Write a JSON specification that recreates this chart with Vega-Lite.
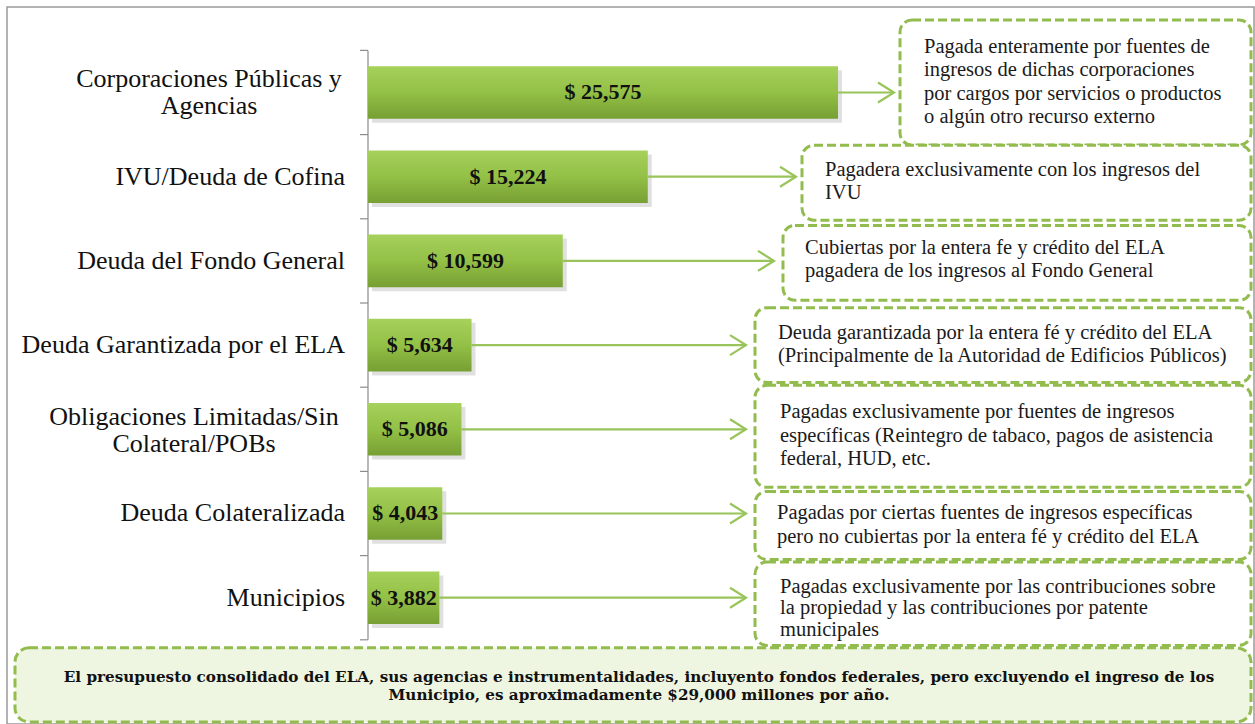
{
  "$schema": "https://vega.github.io/schema/vega-lite/v6.json",
  "autosize": "none",
  "width": 1247,
  "height": 717,
  "padding": {"left": 7, "top": 7, "right": 1, "bottom": 0},
  "background": "white",
  "config": {
    "view": {"stroke": "#9a9a9a", "strokeWidth": 1.5},
    "text": {"font": "'Liberation Serif', 'Times New Roman', serif"},
    "locale": {"number": {"decimal": ".", "thousands": ",", "grouping": [3], "currency": ["$ ", ""]}}
  },
  "datasets": {
    "deuda": [
      {"categoria": "Corporaciones Públicas y\nAgencias", "valor": 25575, "nota": "Pagada enteramente por fuentes de\ningresos de dichas corporaciones\npor cargos por servicios o productos\no algún otro recurso externo"},
      {"categoria": "IVU/Deuda de Cofina", "valor": 15224, "nota": "Pagadera exclusivamente con los ingresos del\nIVU"},
      {"categoria": "Deuda del Fondo General", "valor": 10599, "nota": "Cubiertas por la entera fe y crédito del ELA\npagadera de los ingresos al Fondo General"},
      {"categoria": "Deuda Garantizada por el ELA", "valor": 5634, "nota": "Deuda garantizada por la entera fé y crédito del ELA\n(Principalmente de la Autoridad de Edificios Públicos)"},
      {"categoria": "Obligaciones Limitadas/Sin\nColateral/POBs", "valor": 5086, "nota": "Pagadas exclusivamente por fuentes de ingresos\nespecíficas (Reintegro de tabaco, pagos de asistencia\nfederal, HUD, etc."},
      {"categoria": "Deuda Colateralizada", "valor": 4043, "nota": "Pagadas por ciertas fuentes de ingresos específicas\npero no cubiertas por la entera fé y crédito del ELA"},
      {"categoria": "Municipios", "valor": 3882, "nota": "Pagadas exclusivamente por las contribuciones sobre\nla propiedad y las contribuciones por patente\nmunicipales"}
    ]
  },
  "data": {"name": "deuda"},
  "resolve": {"scale": {"x": "independent"}},
  "encoding": {
    "y": {"field": "categoria", "type": "nominal", "axis": null,
      "scale": {"domain": ["Corporaciones Públicas y\nAgencias", "IVU/Deuda de Cofina", "Deuda del Fondo General", "Deuda Garantizada por el ELA", "Obligaciones Limitadas/Sin\nColateral/POBs", "Deuda Colateralizada", "Municipios", "Resumen"], "paddingInner": 0, "paddingOuter": 0.2577, "align": 1}}
  },
  "layer": [
    {
      "mark": {"type": "bar", "height": {"band": 1}, "fillOpacity": 0, "stroke": "#8c8c8c", "strokeWidth": 1.2},
      "encoding": {
        "x": {"datum": 0, "type": "quantitative", "axis": null, "scale": {"domain": [-19644, 48212], "nice": false, "zero": false}},
        "x2": {"datum": 0}
      }
    },
    {
      "mark": {"type": "rule", "color": "#8c8c8c", "strokeWidth": 1.2},
      "encoding": {
        "y": {"field": "categoria", "type": "nominal", "bandPosition": 0, "axis": null,
          "scale": {"domain": ["Corporaciones Públicas y\nAgencias", "IVU/Deuda de Cofina", "Deuda del Fondo General", "Deuda Garantizada por el ELA", "Obligaciones Limitadas/Sin\nColateral/POBs", "Deuda Colateralizada", "Municipios", "Resumen"], "paddingInner": 0, "paddingOuter": 0.2577, "align": 1}},
        "x": {"datum": -435, "type": "quantitative", "axis": null, "scale": {"domain": [-19644, 48212], "nice": false, "zero": false}},
        "x2": {"datum": 0}
      }
    },
    {
      "mark": {"type": "bar", "height": {"band": 0.625}, "yOffset": 4, "xOffset": 4, "color": "#000000", "opacity": 0.12},
      "encoding": {
        "x": {"field": "valor", "type": "quantitative", "axis": null, "scale": {"domain": [-19644, 48212], "nice": false, "zero": false}}
      }
    },
    {
      "mark": {"type": "bar", "height": {"band": 0.625},
        "color": {"gradient": "linear", "x1": 0, "y1": 0, "x2": 0, "y2": 1,
          "stops": [{"offset": 0, "color": "#a6d15c"}, {"offset": 0.5, "color": "#93c046"}, {"offset": 1, "color": "#779f33"}]}},
      "encoding": {
        "x": {"field": "valor", "type": "quantitative", "axis": null, "scale": {"domain": [-19644, 48212], "nice": false, "zero": false}}
      }
    },
    {
      "mark": {"type": "text", "align": "center", "baseline": "middle", "fontSize": 22, "fontWeight": "bold", "color": "#111111"},
      "encoding": {
        "x": {"field": "valor", "type": "quantitative", "axis": null, "scale": {"domain": [-39288, 96424], "nice": false, "zero": false}},
        "text": {"field": "valor", "type": "quantitative", "format": "$,"}
      }
    },
    {
      "transform": [{"filter": {"field": "categoria", "oneOf": ["IVU/Deuda de Cofina", "Deuda del Fondo General", "Deuda Garantizada por el ELA", "Deuda Colateralizada", "Municipios"]}}],
      "mark": {"type": "text", "align": "right", "baseline": "middle", "dx": -23, "fontSize": 26, "color": "#111111"},
      "encoding": {
        "x": {"datum": 0, "type": "quantitative", "axis": null, "scale": {"domain": [-19644, 48212], "nice": false, "zero": false}},
        "text": {"field": "categoria"}
      }
    },
    {
      "transform": [{"filter": {"field": "categoria", "equal": "Corporaciones Públicas y\nAgencias"}}],
      "mark": {"type": "text", "align": "center", "baseline": "middle", "dx": -159, "yOffset": -13.5, "fontSize": 26, "lineBreak": "\n", "lineHeight": 27, "color": "#111111"},
      "encoding": {
        "x": {"datum": 0, "type": "quantitative", "axis": null, "scale": {"domain": [-19644, 48212], "nice": false, "zero": false}},
        "text": {"field": "categoria"}
      }
    },
    {
      "transform": [{"filter": {"field": "categoria", "equal": "Obligaciones Limitadas/Sin\nColateral/POBs"}}],
      "mark": {"type": "text", "align": "center", "baseline": "middle", "dx": -174, "yOffset": -12.5, "fontSize": 26, "lineBreak": "\n", "lineHeight": 27, "color": "#111111"},
      "encoding": {
        "x": {"datum": 0, "type": "quantitative", "axis": null, "scale": {"domain": [-19644, 48212], "nice": false, "zero": false}},
        "text": {"field": "categoria"}
      }
    },
    {
      "transform": [{"filter": {"field": "categoria", "equal": "Corporaciones Públicas y\nAgencias"}}],
      "layer": [
        {"mark": {"type": "rule", "color": "#98c45a", "strokeWidth": 2.2},
          "encoding": {"x": {"field": "valor", "type": "quantitative", "axis": null, "scale": {"domain": [-19644, 48212], "nice": false, "zero": false}}, "x2": {"datum": 28622}}},
        {"mark": {"type": "point", "shape": "M-1.6,-1L0,0L-1.6,1", "filled": false, "color": "#98c45a", "strokeWidth": 2.2, "size": 400, "opacity": 1},
          "encoding": {"x": {"datum": 28622, "type": "quantitative", "axis": null, "scale": {"domain": [-19644, 48212], "nice": false, "zero": false}}}},
        {"mark": {"type": "bar", "height": {"band": 1.485}, "yOffset": -10, "fill": "#ffffff", "stroke": "#93bc4f", "strokeWidth": 3, "strokeDash": [9, 4], "cornerRadius": 12},
          "encoding": {"x": {"datum": 28949, "type": "quantitative", "axis": null, "scale": {"domain": [-19644, 48212], "nice": false, "zero": false}}, "x2": {"datum": 48049}}},
        {"mark": {"type": "text", "align": "left", "baseline": "middle", "dx": 24, "yOffset": -45.5, "fontSize": 20.5, "lineBreak": "\n", "lineHeight": 23.3, "color": "#1a1a1a"},
          "encoding": {"x": {"datum": 28949, "type": "quantitative", "axis": null, "scale": {"domain": [-19644, 48212], "nice": false, "zero": false}}, "text": {"field": "nota"}}}
      ]
    },
    {
      "transform": [{"filter": {"field": "categoria", "equal": "IVU/Deuda de Cofina"}}],
      "layer": [
        {"mark": {"type": "rule", "color": "#98c45a", "strokeWidth": 2.2},
          "encoding": {"x": {"field": "valor", "type": "quantitative", "axis": null, "scale": {"domain": [-19644, 48212], "nice": false, "zero": false}}, "x2": {"datum": 23290}}},
        {"mark": {"type": "point", "shape": "M-1.6,-1L0,0L-1.6,1", "filled": false, "color": "#98c45a", "strokeWidth": 2.2, "size": 400, "opacity": 1},
          "encoding": {"x": {"datum": 23290, "type": "quantitative", "axis": null, "scale": {"domain": [-19644, 48212], "nice": false, "zero": false}}}},
        {"mark": {"type": "bar", "height": {"band": 0.89}, "yOffset": 6, "fill": "#ffffff", "stroke": "#93bc4f", "strokeWidth": 3, "strokeDash": [9, 4], "cornerRadius": 12},
          "encoding": {"x": {"datum": 23616, "type": "quantitative", "axis": null, "scale": {"domain": [-19644, 48212], "nice": false, "zero": false}}, "x2": {"datum": 48049}}},
        {"mark": {"type": "text", "align": "left", "baseline": "middle", "dx": 23, "yOffset": -6.7, "fontSize": 20.5, "lineBreak": "\n", "lineHeight": 23.3, "color": "#1a1a1a"},
          "encoding": {"x": {"datum": 23616, "type": "quantitative", "axis": null, "scale": {"domain": [-19644, 48212], "nice": false, "zero": false}}, "text": {"field": "nota"}}}
      ]
    },
    {
      "transform": [{"filter": {"field": "categoria", "equal": "Deuda del Fondo General"}}],
      "layer": [
        {"mark": {"type": "rule", "color": "#98c45a", "strokeWidth": 2.2},
          "encoding": {"x": {"field": "valor", "type": "quantitative", "axis": null, "scale": {"domain": [-19644, 48212], "nice": false, "zero": false}}, "x2": {"datum": 22093}}},
        {"mark": {"type": "point", "shape": "M-1.6,-1L0,0L-1.6,1", "filled": false, "color": "#98c45a", "strokeWidth": 2.2, "size": 400, "opacity": 1},
          "encoding": {"x": {"datum": 22093, "type": "quantitative", "axis": null, "scale": {"domain": [-19644, 48212], "nice": false, "zero": false}}}},
        {"mark": {"type": "bar", "height": {"band": 0.89}, "yOffset": 2, "fill": "#ffffff", "stroke": "#93bc4f", "strokeWidth": 3, "strokeDash": [9, 4], "cornerRadius": 12},
          "encoding": {"x": {"datum": 22582, "type": "quantitative", "axis": null, "scale": {"domain": [-19644, 48212], "nice": false, "zero": false}}, "x2": {"datum": 48049}}},
        {"mark": {"type": "text", "align": "left", "baseline": "middle", "dx": 22, "yOffset": -13, "fontSize": 20.5, "lineBreak": "\n", "lineHeight": 23.3, "color": "#1a1a1a"},
          "encoding": {"x": {"datum": 22582, "type": "quantitative", "axis": null, "scale": {"domain": [-19644, 48212], "nice": false, "zero": false}}, "text": {"field": "nota"}}}
      ]
    },
    {
      "transform": [{"filter": {"field": "categoria", "equal": "Deuda Garantizada por el ELA"}}],
      "layer": [
        {"mark": {"type": "rule", "color": "#98c45a", "strokeWidth": 2.2},
          "encoding": {"x": {"field": "valor", "type": "quantitative", "axis": null, "scale": {"domain": [-19644, 48212], "nice": false, "zero": false}}, "x2": {"datum": 20569}}},
        {"mark": {"type": "point", "shape": "M-1.6,-1L0,0L-1.6,1", "filled": false, "color": "#98c45a", "strokeWidth": 2.2, "size": 400, "opacity": 1},
          "encoding": {"x": {"datum": 20569, "type": "quantitative", "axis": null, "scale": {"domain": [-19644, 48212], "nice": false, "zero": false}}}},
        {"mark": {"type": "bar", "height": {"band": 0.89}, "yOffset": 0, "fill": "#ffffff", "stroke": "#93bc4f", "strokeWidth": 3, "strokeDash": [9, 4], "cornerRadius": 12},
          "encoding": {"x": {"datum": 21059, "type": "quantitative", "axis": null, "scale": {"domain": [-19644, 48212], "nice": false, "zero": false}}, "x2": {"datum": 48049}}},
        {"mark": {"type": "text", "align": "left", "baseline": "middle", "dx": 23, "yOffset": -12, "fontSize": 20.5, "lineBreak": "\n", "lineHeight": 23.3, "color": "#1a1a1a"},
          "encoding": {"x": {"datum": 21059, "type": "quantitative", "axis": null, "scale": {"domain": [-19644, 48212], "nice": false, "zero": false}}, "text": {"field": "nota"}}}
      ]
    },
    {
      "transform": [{"filter": {"field": "categoria", "equal": "Obligaciones Limitadas/Sin\nColateral/POBs"}}],
      "layer": [
        {"mark": {"type": "rule", "color": "#98c45a", "strokeWidth": 2.2},
          "encoding": {"x": {"field": "valor", "type": "quantitative", "axis": null, "scale": {"domain": [-19644, 48212], "nice": false, "zero": false}}, "x2": {"datum": 20569}}},
        {"mark": {"type": "point", "shape": "M-1.6,-1L0,0L-1.6,1", "filled": false, "color": "#98c45a", "strokeWidth": 2.2, "size": 400, "opacity": 1},
          "encoding": {"x": {"datum": 20569, "type": "quantitative", "axis": null, "scale": {"domain": [-19644, 48212], "nice": false, "zero": false}}}},
        {"mark": {"type": "bar", "height": {"band": 1.21}, "yOffset": 7, "fill": "#ffffff", "stroke": "#93bc4f", "strokeWidth": 3, "strokeDash": [9, 4], "cornerRadius": 12},
          "encoding": {"x": {"datum": 21059, "type": "quantitative", "axis": null, "scale": {"domain": [-19644, 48212], "nice": false, "zero": false}}, "x2": {"datum": 48049}}},
        {"mark": {"type": "text", "align": "left", "baseline": "middle", "dx": 25, "yOffset": -17, "fontSize": 20.5, "lineBreak": "\n", "lineHeight": 23.3, "color": "#1a1a1a"},
          "encoding": {"x": {"datum": 21059, "type": "quantitative", "axis": null, "scale": {"domain": [-19644, 48212], "nice": false, "zero": false}}, "text": {"field": "nota"}}}
      ]
    },
    {
      "transform": [{"filter": {"field": "categoria", "equal": "Deuda Colateralizada"}}],
      "layer": [
        {"mark": {"type": "rule", "color": "#98c45a", "strokeWidth": 2.2},
          "encoding": {"x": {"field": "valor", "type": "quantitative", "axis": null, "scale": {"domain": [-19644, 48212], "nice": false, "zero": false}}, "x2": {"datum": 20569}}},
        {"mark": {"type": "point", "shape": "M-1.6,-1L0,0L-1.6,1", "filled": false, "color": "#98c45a", "strokeWidth": 2.2, "size": 400, "opacity": 1},
          "encoding": {"x": {"datum": 20569, "type": "quantitative", "axis": null, "scale": {"domain": [-19644, 48212], "nice": false, "zero": false}}}},
        {"mark": {"type": "bar", "height": {"band": 0.81}, "yOffset": 12, "fill": "#ffffff", "stroke": "#93bc4f", "strokeWidth": 3, "strokeDash": [9, 4], "cornerRadius": 12},
          "encoding": {"x": {"datum": 21059, "type": "quantitative", "axis": null, "scale": {"domain": [-19644, 48212], "nice": false, "zero": false}}, "x2": {"datum": 48049}}},
        {"mark": {"type": "text", "align": "left", "baseline": "middle", "dx": 22, "yOffset": 0, "fontSize": 20.5, "lineBreak": "\n", "lineHeight": 23.3, "color": "#1a1a1a"},
          "encoding": {"x": {"datum": 21059, "type": "quantitative", "axis": null, "scale": {"domain": [-19644, 48212], "nice": false, "zero": false}}, "text": {"field": "nota"}}}
      ]
    },
    {
      "transform": [{"filter": {"field": "categoria", "equal": "Municipios"}}],
      "layer": [
        {"mark": {"type": "rule", "color": "#98c45a", "strokeWidth": 2.2},
          "encoding": {"x": {"field": "valor", "type": "quantitative", "axis": null, "scale": {"domain": [-19644, 48212], "nice": false, "zero": false}}, "x2": {"datum": 20569}}},
        {"mark": {"type": "point", "shape": "M-1.6,-1L0,0L-1.6,1", "filled": false, "color": "#98c45a", "strokeWidth": 2.2, "size": 400, "opacity": 1},
          "encoding": {"x": {"datum": 20569, "type": "quantitative", "axis": null, "scale": {"domain": [-19644, 48212], "nice": false, "zero": false}}}},
        {"mark": {"type": "bar", "height": {"band": 0.99}, "yOffset": 6, "fill": "#ffffff", "stroke": "#93bc4f", "strokeWidth": 3, "strokeDash": [9, 4], "cornerRadius": 12},
          "encoding": {"x": {"datum": 21059, "type": "quantitative", "axis": null, "scale": {"domain": [-19644, 48212], "nice": false, "zero": false}}, "x2": {"datum": 48049}}},
        {"mark": {"type": "text", "align": "left", "baseline": "middle", "dx": 25, "yOffset": -10.7, "fontSize": 20.5, "lineBreak": "\n", "lineHeight": 21.5, "color": "#1a1a1a"},
          "encoding": {"x": {"datum": 21059, "type": "quantitative", "axis": null, "scale": {"domain": [-19644, 48212], "nice": false, "zero": false}}, "text": {"field": "nota"}}}
      ]
    },
    {
      "data": {"values": [{"resumen": "El presupuesto consolidado del ELA, sus agencias e instrumentalidades, incluyento fondos federales, pero excluyendo el ingreso de los\nMunicipio, es aproximadamente $29,000 millones por año."}]},
      "encoding": {
        "y": {"datum": "Resumen", "type": "nominal", "axis": null,
          "scale": {"domain": ["Corporaciones Públicas y\nAgencias", "IVU/Deuda de Cofina", "Deuda del Fondo General", "Deuda Garantizada por el ELA", "Obligaciones Limitadas/Sin\nColateral/POBs", "Deuda Colateralizada", "Municipios", "Resumen"], "paddingInner": 0, "paddingOuter": 0.2577, "align": 1}}
      },
      "layer": [
        {"mark": {"type": "rule", "color": "#8c8c8c", "strokeWidth": 1.2},
          "encoding": {
            "y": {"datum": "Resumen", "type": "nominal", "bandPosition": 0, "axis": null,
              "scale": {"domain": ["Corporaciones Públicas y\nAgencias", "IVU/Deuda de Cofina", "Deuda del Fondo General", "Deuda Garantizada por el ELA", "Obligaciones Limitadas/Sin\nColateral/POBs", "Deuda Colateralizada", "Municipios", "Resumen"], "paddingInner": 0, "paddingOuter": 0.2577, "align": 1}},
            "x": {"datum": -435, "type": "quantitative", "axis": null, "scale": {"domain": [-19644, 48212], "nice": false, "zero": false}},
            "x2": {"datum": 0}}},
        {"mark": {"type": "bar", "height": {"band": 0.88}, "yOffset": 3, "fill": "#eef5e1", "stroke": "#93bc4f", "strokeWidth": 3, "strokeDash": [9, 4], "cornerRadius": 14},
          "encoding": {"x": {"datum": -19209, "type": "quantitative", "axis": null, "scale": {"domain": [-19644, 48212], "nice": false, "zero": false}}, "x2": {"datum": 48049}}},
        {"mark": {"type": "text", "align": "center", "baseline": "middle", "yOffset": -5, "font": "'DejaVu Serif', serif", "fontSize": 15.2, "fontWeight": "bold", "lineBreak": "\n", "lineHeight": 18.5, "color": "#111111"},
          "encoding": {"x": {"datum": 14747, "type": "quantitative", "axis": null, "scale": {"domain": [-19644, 48212], "nice": false, "zero": false}}, "text": {"field": "resumen"}}}
      ]
    }
  ]
}
